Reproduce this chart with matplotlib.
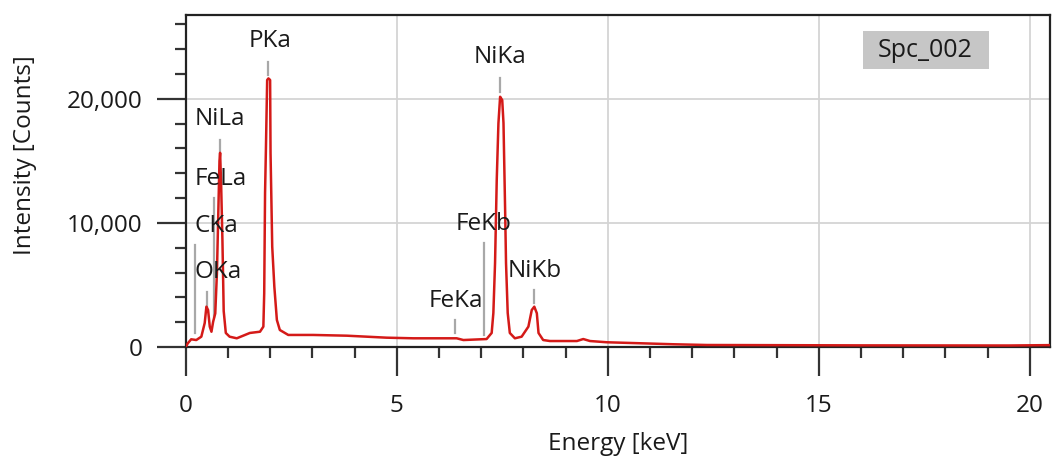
import matplotlib
matplotlib.use("Agg")
import matplotlib.pyplot as plt
from matplotlib import ticker
from matplotlib.patches import Rectangle

plt.rcParams['font.family'] = ['Open Sans', 'DejaVu Sans']

# Spectrum (energy in keV, intensity in counts)
energy_keV = [0.00, 0.05, 0.13, 0.25, 0.37, 0.45, 0.49, 0.53, 0.57, 0.61, 0.65,
              0.70, 0.74, 0.77, 0.80, 0.815, 0.84, 0.87, 0.90, 0.95, 1.04, 1.21,
              1.52, 1.76, 1.84, 1.86, 1.88, 1.90, 1.93, 1.96, 2.00, 2.01, 2.05,
              2.10, 2.16, 2.23, 2.43, 3.02, 3.82, 4.76, 5.39, 6.42, 6.58, 7.13,
              7.21, 7.25, 7.29, 7.33, 7.37, 7.41, 7.45, 7.50, 7.53, 7.57, 7.59,
              7.63, 7.68, 7.80, 7.96, 8.12, 8.20, 8.26, 8.32, 8.36, 8.47, 8.63,
              9.27, 9.42, 9.58, 9.98, 10.77, 11.55, 12.35, 16.0, 19.5, 20.48]
counts = [0, 300, 620, 560, 830, 1930, 3250, 2980, 1640, 1230, 2040,
          2700, 6000, 10500, 15000, 15650, 13000, 8600, 2900, 1130, 830, 700,
          1130, 1230, 1640, 4330, 12400, 15880, 21520, 21650, 21520, 15640, 8080,
          4860, 2180, 1370, 970, 970, 910, 750, 700, 700, 560, 640,
          970, 1130, 2740, 6770, 13460, 18030, 20170, 19900, 18050, 10800, 6770,
          2740, 1130, 700, 830, 1640, 2980, 3250, 2720, 1130, 560, 480,
          480, 640, 480, 380, 300, 220, 160, 130, 120, 150]

# Peak markers: name, energy, line bottom, line top, label x, label baseline y, alignment
marker_names = ["CKa", "OKa", "FeLa", "NiLa", "PKa", "FeKa", "FeKb", "NiKa", "NiKb"]
marker_energy = [0.22, 0.51, 0.67, 0.81, 1.96, 6.38, 7.07, 7.45, 8.26]
marker_bottom = [1130, 3250, 2440, 15340, 21920, 1130, 970, 20550, 3550]
marker_top = [8220, 4460, 12010, 16680, 23000, 2180, 8410, 21680, 4590]
label_x = [0.20, 0.22, 0.22, 0.22, 2.00, 6.41, 7.06, 7.45, 8.28]
label_y = [9290, 5540, 13060, 17900, 24200, 3250, 9430, 22850, 5670]
label_ha = ["left", "left", "left", "left", "center", "center", "center", "center", "center"]

x_major = [0, 5, 10, 15, 20]
y_major = [0, 10000, 20000]

FS = 17.5

fig = plt.figure(figsize=(10.54, 4.65), dpi=100)
ax = fig.add_axes([0.1762, 0.2538, 0.8200, 0.7140])

ax.set_xlim(0, 20.48)
ax.set_ylim(0, 26760)

ax.grid(True, which='major', color='#d4d4d4', linewidth=1.3, zorder=0)

for e, b, t in zip(marker_energy, marker_bottom, marker_top):
    ax.plot([e, e], [b, t], color='#a8a8a8', linewidth=1.6, zorder=2)

ax.plot(energy_keV, counts, color='#d41a18', linewidth=1.8, zorder=3)

for n, lx, ly, ha in zip(marker_names, label_x, label_y, label_ha):
    ax.text(lx, ly, n, ha=ha, va='baseline', fontsize=FS, color='#1a1a1a', zorder=4)

ax.add_patch(Rectangle((0.7837, 0.8373), 0.1457, 0.1145, transform=ax.transAxes,
                       facecolor='#c6c6c6', edgecolor='none', zorder=4))
ax.text(0.856, 0.893, "Spc_002", transform=ax.transAxes, ha='center', va='center',
        fontsize=18, color='#1a1a1a', zorder=5)

ax.set_xticks(x_major)
ax.set_yticks(y_major)
ax.xaxis.set_minor_locator(ticker.MultipleLocator(1))
ax.yaxis.set_minor_locator(ticker.MultipleLocator(2000))
ax.yaxis.set_major_formatter(ticker.StrMethodFormatter('{x:,.0f}'))

ax.tick_params(which='major', length=21, width=1.6, color='#333333',
               labelsize=FS, labelcolor='#1a1a1a')
ax.tick_params(axis='x', which='major', pad=13)
ax.tick_params(axis='y', which='major', pad=10)
ax.tick_params(which='minor', length=8, width=1.6, color='#333333')

for s in ax.spines.values():
    s.set_color('#222222')
    s.set_linewidth(1.6)

ax.set_xlabel("Energy [keV]", fontsize=FS, color='#1a1a1a')
ax.xaxis.set_label_coords(0.5, -0.255)
ax.set_ylabel("Intensity [Counts]", fontsize=FS, color='#1a1a1a')
ax.yaxis.set_label_coords(-0.172, 0.578)

fig.savefig("out.png", dpi=100)
